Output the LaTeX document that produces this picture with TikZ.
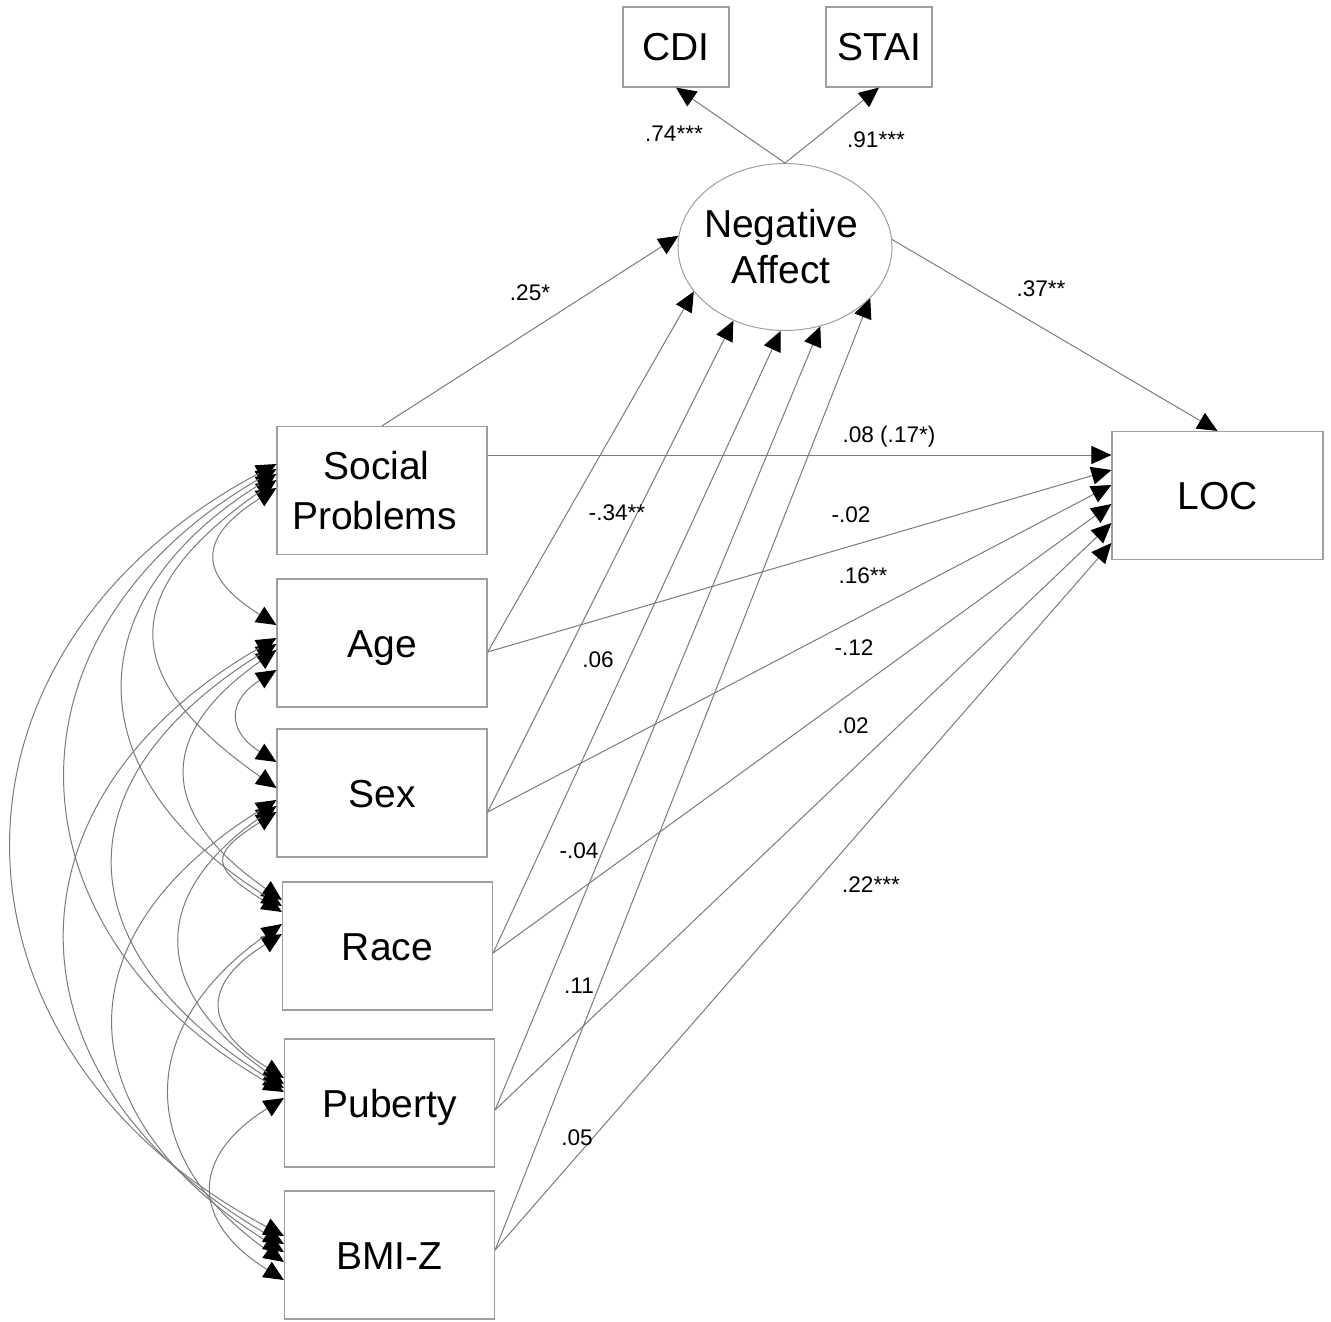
\documentclass[tikz,border=0pt]{standalone}
\usepackage{fontspec}
\setmainfont{Liberation Sans}
\usetikzlibrary{arrows.meta,calc,shapes.geometric}
\definecolor{lc}{gray}{0.48}
\definecolor{bc}{gray}{0.62}
\begin{document}
\begin{tikzpicture}[x=0.5pt,y=0.5pt,
  box/.style={draw=bc, line width=0.6pt, minimum width=105pt, minimum height=64pt, inner sep=0pt, font=\fontsize{19.5}{25}\selectfont, align=center},
  one/.style={text height=14pt, text depth=0pt},
  small/.style={minimum width=53pt, minimum height=40pt},
  lat/.style={draw=bc, line width=0.5pt, ellipse, minimum width=107pt, minimum height=83.5pt, inner sep=0pt, font=\fontsize{19.5}{23}\selectfont, align=center},
  pth/.style={draw=lc, line width=0.5pt, -{Triangle[length=10pt,width=9pt,color=black]}},
  cov/.style={draw=lc, line width=0.5pt, {Triangle[length=10pt,width=9pt,color=black]}-{Triangle[length=10pt,width=9pt,color=black]}},
  lab/.style={font=\fontsize{11.3}{13}\selectfont, inner sep=0pt, anchor=base}
]
\path[use as bounding box] (0,0) rectangle (1331,-1321);

% nodes
\node[box,one,small] (cdi) at (676,-47) {CDI};
\node[box,one,small] (stai) at (879,-47) {STAI};
\node[lat] (na) at (785,-247) {\makebox[60pt][c]{\hspace*{-4pt}Negative}\\\makebox[60pt][c]{\hspace*{-4pt}Affect}};
\node[box] (soc) at (382,-490.5) {\hspace*{-5.5pt}Social\\\hspace*{-7.5pt}Problems};
\node[box,one] (age) at (382,-643) {Age};
\node[box,one] (sex) at (382,-793) {Sex};
\node[box,one] (race) at (387.5,-946) {Race};
\node[box,one] (pub) at (389.5,-1103) {Puberty};
\node[box,one] (bmi) at (389.5,-1255) {BMI-Z};
\node[box,one,minimum width=105.5pt] (loc) at (1217.5,-495.5) {LOC};

% measurement and structural paths
\draw[pth] (na.north) -- (cdi.south);
\draw[pth] (na.north) -- (stai.south);
\draw[pth] (soc.north) -- (na.174);
\draw[pth] (na.4) -- (loc.north);

\draw[pth] ($(soc.east)+(0,35.5)$) -- ($(loc.west)+(0,40.5)$);
\draw[pth] ($(age.east)+(0,-9)$) -- ($(loc.west)+(0,25.5)$);
\draw[pth] ($(sex.east)+(0,-19)$) -- ($(loc.west)+(0,10.5)$);
\draw[pth] ($(race.east)+(0,-7)$) -- ($(loc.west)+(0,-8.5)$);
\draw[pth] ($(pub.east)+(0,-7)$) -- ($(loc.west)+(0,-27.5)$);
\draw[pth] ($(bmi.east)+(0,5)$) -- ($(loc.west)+(0,-47.5)$);

\draw[pth] ($(age.east)+(0,-9)$) -- (na.206);
\draw[pth] ($(sex.east)+(0,-19)$) -- (na.235);
\draw[pth] ($(race.east)+(0,-7)$) -- (na.267);
\draw[pth] ($(pub.east)+(0,-7)$) -- (na.294);
\draw[pth] ($(bmi.east)+(0,5)$) -- (na.329);

% covariances
\draw[cov] ($(soc.west)+(0,2.5)$) to[out=212,in=148,looseness=1.75] ($(age.west)+(0,18)$);
\draw[cov] ($(age.west)+(0,-27)$) to[out=212,in=148,looseness=1.62] ($(sex.west)+(0,31)$);
\draw[cov] ($(sex.west)+(0,-19)$) to[out=212,in=148,looseness=2.1] ($(race.west)+(0,34)$);
\draw[cov] ($(race.west)+(0,12)$) to[out=212,in=148,looseness=1.69] ($(pub.west)+(0,25)$);
\draw[cov] ($(pub.west)+(0,5)$) to[out=212,in=148,looseness=1.56] ($(bmi.west)+(0,-25)$);

\draw[cov] ($(soc.west)+(0,10.5)$) to[out=215,in=145,looseness=1.62] ($(sex.west)+(0,5)$);
\draw[cov] ($(age.west)+(0,-7)$) to[out=215,in=145,looseness=1.53] ($(race.west)+(0,46)$);
\draw[cov] ($(sex.west)+(0,-13)$) to[out=215,in=145,looseness=1.47] ($(pub.west)+(0,19)$);
\draw[cov] ($(race.west)+(0,22)$) to[out=215,in=145,looseness=1.37] ($(bmi.west)+(0,-7)$);

\draw[cov] ($(soc.west)+(0,16.5)$) to[out=212,in=148,looseness=1.43] ($(race.west)+(0,40)$);
\draw[cov] ($(age.west)+(0,-1)$) to[out=212,in=148,looseness=1.49] ($(pub.west)+(0,15)$);
\draw[cov] ($(sex.west)+(0,-7)$) to[out=212,in=148,looseness=1.46] ($(bmi.west)+(0,3)$);

\draw[cov] ($(soc.west)+(0,21.5)$) to[out=210,in=150,looseness=1.34] ($(pub.west)+(0,11)$);
\draw[cov] ($(age.west)+(0,5)$) to[out=210,in=150,looseness=1.38] ($(bmi.west)+(0,11)$);

\draw[cov] ($(soc.west)+(0,26.5)$) to[out=208,in=152,looseness=1.33] ($(bmi.west)+(0,19)$);

% labels
\node[lab] (l1) at (674,-142) {.74***};
\node[lab] (l2) at (876,-148) {.91***};
\node[lab] (l3) at (530,-300) {.25*};
\node[lab] (l4) at (1041,-296) {.37**};
\node[lab] (l5) at (889,-442) {.08 (.17*)};
\node[lab] (l6) at (617,-520) {-.34**};
\node[lab] (l7) at (851,-522) {-.02};
\node[lab] (l8) at (863,-583) {.16**};
\node[lab] (l9) at (598,-667) {.06};
\node[lab] (l10) at (854,-655) {-.12};
\node[lab] (l11) at (853,-733) {.02};
\node[lab] (l12) at (579,-858) {-.04};
\node[lab] (l13) at (871,-892) {.22***};
\node[lab] (l14) at (579,-993) {.11};
\node[lab] (l15) at (577,-1145) {.05};
\end{tikzpicture}
\end{document}
